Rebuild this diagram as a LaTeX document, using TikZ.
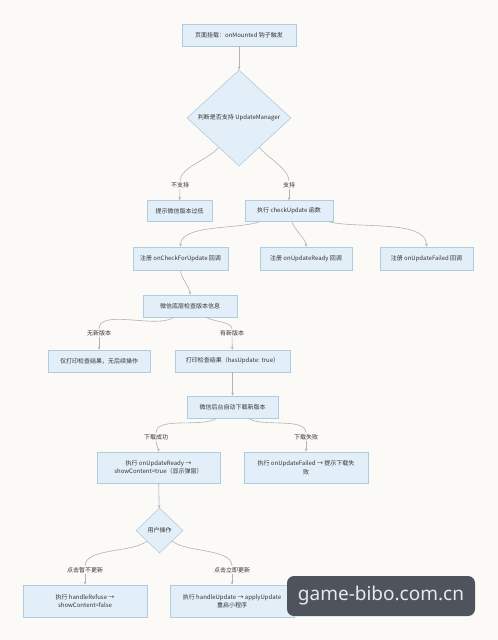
\documentclass[tikz,border=0pt]{standalone}
\usepackage{fontspec}
\setmainfont{Noto Sans CJK SC}
\newfontfamily\wmfont{Noto Sans}
\usetikzlibrary{shapes.geometric,arrows.meta}
\definecolor{bgc}{RGB}{251,250,246}
\definecolor{boxfill}{RGB}{227,239,248}
\definecolor{boxline}{RGB}{176,204,224}
\definecolor{linec}{RGB}{178,178,178}
\definecolor{txt}{RGB}{51,51,51}
\definecolor{wmfill}{RGB}{79,84,92}
\definecolor{wmtext}{RGB}{232,232,240}
\begin{document}
\begin{tikzpicture}[x=1pt,y=-1pt,
 box/.style={draw=boxline, fill=boxfill, line width=0.6pt, text=txt, font=\fontsize{6}{8.5}\selectfont, align=center, inner sep=0pt},
 dia/.style={box, diamond},
 lbl/.style={fill=bgc, text=txt, font=\fontsize{6}{7}\selectfont, inner sep=1pt},
 conn/.style={draw=linec, line width=0.6pt, looseness=0.7},
 arr/.style={conn, -{Stealth[length=3pt,width=2.6pt]}},
]
\useasboundingbox (0,0) rectangle (498,640);
\fill[bgc] (0,0) rectangle (498,640);

\node[box, minimum width=114pt, minimum height=22pt] (n1) at (239,35) {页面挂载：onMounted 钩子触发};
\node[dia, minimum width=104pt, minimum height=96pt] (d1) at (239,118) {判断是否支持 UpdateManager};
\node[box, minimum width=65pt, minimum height=21pt] (n2) at (179.5,211) {提示微信版本过低};
\node[box, minimum width=88pt, minimum height=21pt] (n3) at (289,211) {执行 checkUpdate 函数};
\node[box, minimum width=95pt, minimum height=23pt] (r1) at (180.5,258.5) {注册 onCheckForUpdate 回调};
\node[box, minimum width=92pt, minimum height=23pt] (r2) at (306,258.5) {注册 onUpdateReady 回调};
\node[box, minimum width=93pt, minimum height=23pt] (r3) at (426.5,258.5) {注册 onUpdateFailed 回调};
\node[box, minimum width=94pt, minimum height=22pt] (c1) at (190,306) {微信底层检查版本信息};
\node[box, minimum width=102pt, minimum height=22pt] (b1) at (99,361) {仅打印检查结果，无后续操作};
\node[box, minimum width=115pt, minimum height=22pt] (b2) at (232.5,361) {打印检查结果（hasUpdate: true）};
\node[box, minimum width=91pt, minimum height=22pt] (dl) at (232.5,407) {微信后台自动下载新版本};
\node[box, minimum width=123pt, minimum height=31pt] (e1) at (158.5,467.5) {执行 onUpdateReady →\\showContent=true（显示弹窗）};
\node[box, minimum width=124pt, minimum height=31pt] (e2) at (306,467.5) {执行 onUpdateFailed → 提示下载失\\败};
\node[dia, minimum width=47pt, minimum height=45pt] (u) at (159.5,530.5) {用户操作};
\node[box, minimum width=124pt, minimum height=32pt] (f1) at (85,601) {执行 handleRefuse →\\showContent=false};
\node[box, minimum width=124pt, minimum height=32pt] (f2) at (232,601) {执行 handleUpdate → applyUpdate\\重启小程序};

\node[lbl] (l1) at (180,185) {不支持};
\node[lbl] (l2) at (289,185) {支持};
\node[lbl] (l3) at (99,333) {无新版本};
\node[lbl] (l4) at (232,333) {有新版本};
\node[lbl] (l5) at (156,437) {下载成功};
\node[lbl] (l6) at (306,437) {下载失败};
\node[lbl] (l7) at (85,570) {点击暂不更新};
\node[lbl] (l8) at (232,570) {点击立即更新};

\draw[arr] (n1) -- (d1);
\draw[conn] (d1) to[out=-125,in=90] (l1);
\draw[arr] (l1) -- (n2);
\draw[conn] (d1) to[out=-55,in=90] (l2);
\draw[arr] (l2) -- (n3);
\draw[arr] (n3) to[out=-160,in=90] (r1);
\draw[arr] (n3) to[out=-75,in=90] (r2);
\draw[arr] (n3) to[out=-15,in=90] (r3);
\draw[arr] (r1) to[out=-90,in=90] (c1);
\draw[conn] (c1) to[out=-145,in=90] (l3);
\draw[arr] (l3) -- (b1);
\draw[conn] (c1) to[out=-35,in=90] (l4);
\draw[arr] (l4) -- (b2);
\draw[arr] (b2) -- (dl);
\draw[conn] (dl) to[out=-145,in=90] (l5);
\draw[arr] (l5) to[out=-90,in=90] (e1);
\draw[conn] (dl) to[out=-35,in=90] (l6);
\draw[arr] (l6) -- (e2);
\draw[arr] (e1) -- (u);
\draw[conn] (u) to[out=-140,in=90] (l7);
\draw[arr] (l7) -- (f1);
\draw[conn] (u) to[out=-40,in=90] (l8);
\draw[arr] (l8) -- (f2);

\node[fill=wmfill, rounded corners=7pt, minimum width=188pt, minimum height=40pt, text=wmtext, font=\wmfont\fontsize{19}{19}\selectfont] (wm) at (381,596) {game-bibo.com.cn};
\end{tikzpicture}
\end{document}
